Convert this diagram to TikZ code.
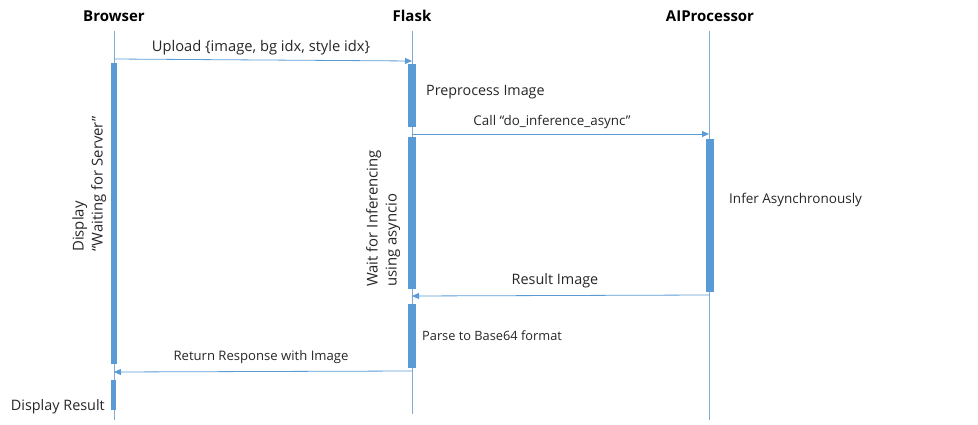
\documentclass[tikz,border=0pt]{standalone}
\usepackage{fontspec}
\setmainfont{Open Sans}
\usetikzlibrary{arrows.meta}
\definecolor{lblue}{HTML}{5B9BD5}
\definecolor{lline}{HTML}{7FA9D6}
\tikzset{
  lifehead/.style={font=\bfseries\fontsize{15}{17}\selectfont, inner sep=0pt, anchor=center},
  lifeline/.style={draw=lline, line width=0.8pt},
  actbar/.style={fill=lblue, draw=none, minimum width=8pt, inner sep=0pt, anchor=north},
  msg/.style={draw=lblue, line width=0.8pt, -{Triangle[length=7pt,width=6pt]}},
  lbl/.style={inner sep=0pt, anchor=center, text=black!85},
  note/.style={inner sep=0pt, anchor=west, text=black!85},
  vnote/.style={inner sep=0pt, rotate=90, anchor=north west, align=left, text=black!85, font=\fontsize{14.9}{19}\selectfont},
}
\begin{document}
\begin{tikzpicture}[x=1pt,y=-1pt]
\useasboundingbox (0,0) rectangle (978,425);
% lifeline heads
\node[lifehead] (hB) at (114,16) {Browser};
\node[lifehead] (hF) at (412,16) {Flask};
\node[lifehead] (hA) at (710,16) {AIProcessor};
% lifeline ends
\coordinate (tB) at (114,31); \coordinate (eB) at (114,420);
\coordinate (tF) at (412,31); \coordinate (eF) at (412,414);
\coordinate (tA) at (709,31); \coordinate (eA) at (709,420);
\draw[lifeline] (tB) -- (eB);
\draw[lifeline] (tF) -- (eF);
\draw[lifeline] (tA) -- (eA);
% activation bars
\node[actbar, minimum width=6pt, minimum height=301pt] (bB1) at (114,63) {};
\node[actbar, minimum width=5pt, minimum height=30pt] (bB2) at (113.5,380) {};
\node[actbar, minimum height=63pt] (bF1) at (412,64) {};
\node[actbar, minimum height=152pt] (bF2) at (412,137) {};
\node[actbar, minimum height=64pt] (bF3) at (412,304) {};
\node[actbar, minimum height=153pt] (bA1) at (710,139) {};
% message endpoints
\coordinate (m1s) at (114,59); \coordinate (m1e) at (412,61);
\coordinate (m2s) at (412,134); \coordinate (m2e) at (709,134);
\coordinate (m3s) at (709,295); \coordinate (m3e) at (412,296);
\coordinate (m4s) at (412,371); \coordinate (m4e) at (114,372);
\draw[msg] (m1s) -- (m1e);
\draw[msg] (m2s) -- (m2e);
\draw[msg] (m3s) -- (m3e);
\draw[msg] (m4s) -- (m4e);
% message labels
\node[lbl, font=\fontsize{14.7}{17}\selectfont] (l1) at (261,48) {Upload \{image, bg idx, style idx\}};
\node[lbl, font=\fontsize{13.4}{15}\selectfont] (l2) at (552,122) {Call “do\_inference\_async”};
\node[lbl, font=\fontsize{14.4}{17}\selectfont] (l3) at (555,281) {Result Image};
\node[lbl, font=\fontsize{13.1}{15}\selectfont] (l4) at (261,357) {Return Response with Image};
% activity notes
\node[note, font=\fontsize{14.3}{17}\selectfont] (n1) at (426,92) {Preprocess Image};
\node[note, font=\fontsize{13.5}{16}\selectfont] (n2) at (729,200) {Infer Asynchronously};
\node[note, font=\fontsize{12.8}{15}\selectfont] (n3) at (422,336) {Parse to Base64 format};
\node[note, anchor=east, font=\fontsize{14.4}{17}\selectfont] (n4) at (105,407) {Display Result};
% vertical notes
\node[vnote] (v1) at (72,252) {Display\\“Waiting for Server”};
\node[vnote] (v2) at (366,287) {Wait for Inferencing\\using asyncio};
\end{tikzpicture}
\end{document}
